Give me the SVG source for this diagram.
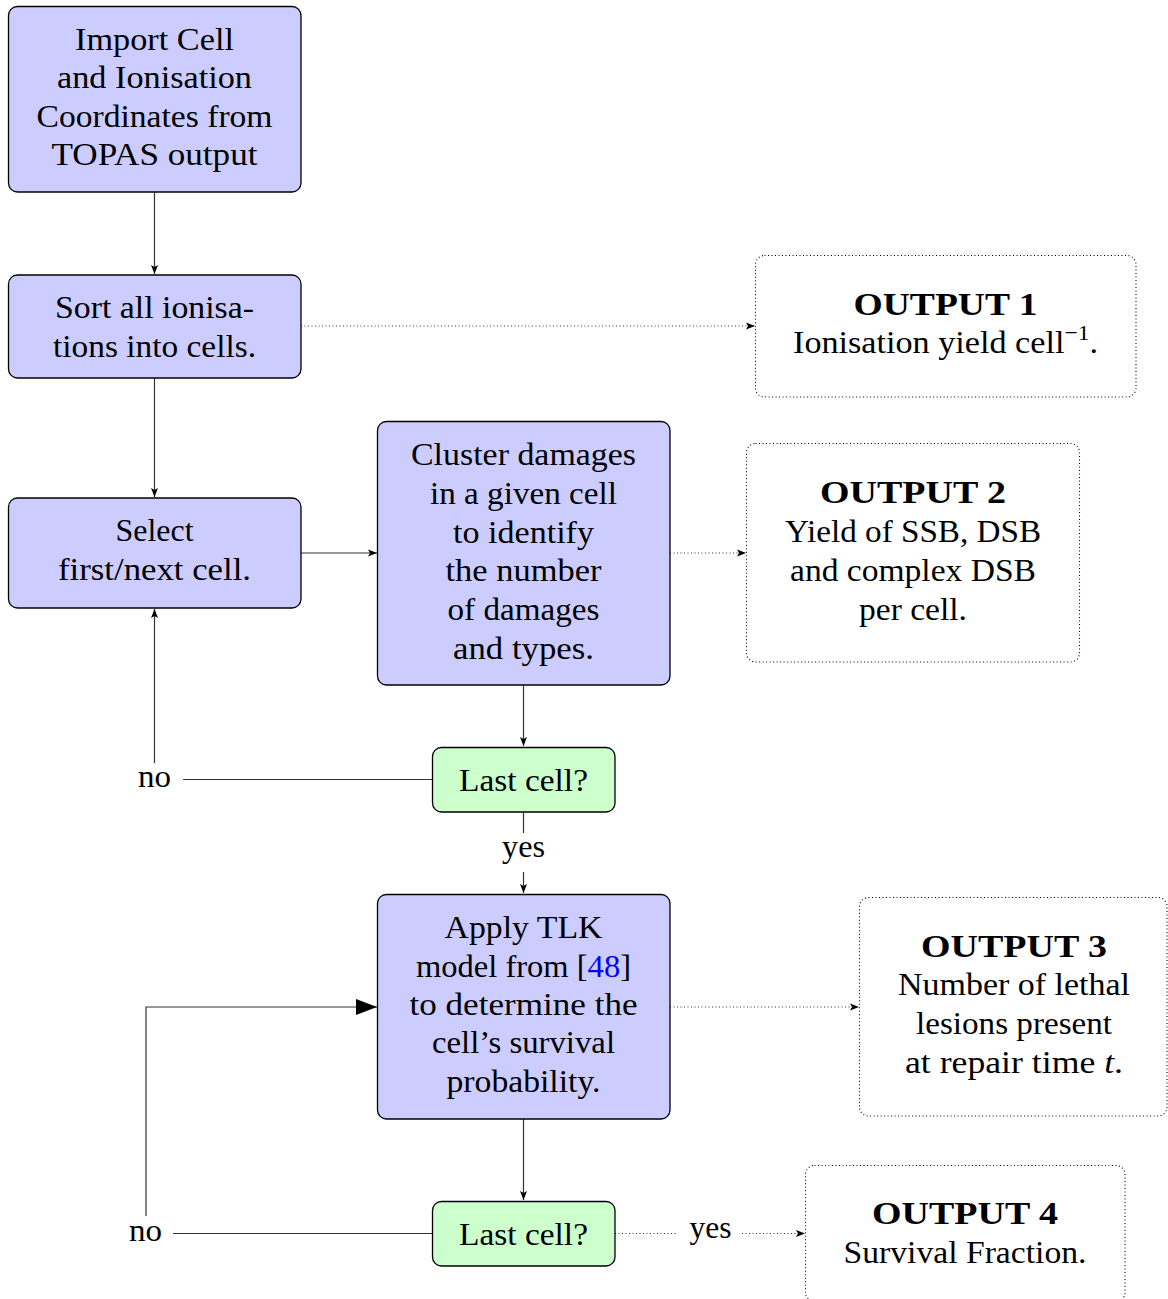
<svg xmlns="http://www.w3.org/2000/svg" width="1168" height="1299" viewBox="0 0 1168 1299">
  <defs>
    <style>
      .t { font-family: "Liberation Serif", "DejaVu Serif", serif; font-size: 32px; fill: #000; text-anchor: middle; }
      .b { font-weight: bold; }
      .proc { fill: #ccccff; stroke: #000; stroke-width: 1.3; }
      .dec { fill: #ccffcc; stroke: #000; stroke-width: 1.3; }
      .out { fill: #fff; stroke: #000; stroke-width: 1.1; stroke-dasharray: 1 2.5; }
      .ln { fill: none; stroke: #333; stroke-width: 1.2; }
      .dot { fill: none; stroke: #333; stroke-width: 1.1; stroke-dasharray: 1 2.5; }
    </style>
    <marker id="ah" markerWidth="10" markerHeight="8" refX="9" refY="4" orient="auto" markerUnits="userSpaceOnUse">
      <path d="M0,0.5 L9,4 L0,7.5 L2,4 z" fill="#000"/>
    </marker>
    <marker id="big" markerWidth="22" markerHeight="18" refX="21" refY="9" orient="auto" markerUnits="userSpaceOnUse">
      <path d="M0,1 L21,9 L0,17 z" fill="#000"/>
    </marker>
  </defs>

  <!-- connectors -->
  <g id="connectors">
    <line class="ln" x1="154.5" y1="192" x2="154.5" y2="274" marker-end="url(#ah)"/>
    <line class="ln" x1="154.5" y1="378" x2="154.5" y2="497" marker-end="url(#ah)"/>
    <line class="dot" x1="301" y1="326" x2="755" y2="326" marker-end="url(#ah)"/>
    <line class="ln" x1="301" y1="553" x2="377" y2="553" marker-end="url(#ah)"/>
    <line class="dot" x1="670" y1="553" x2="746" y2="553" marker-end="url(#ah)"/>
    <line class="ln" x1="523.5" y1="685" x2="523.5" y2="746" marker-end="url(#ah)"/>
    <!-- loop back from first decision -->
    <line class="ln" x1="432" y1="779.5" x2="183" y2="779.5"/>
    <line class="ln" x1="154.5" y1="763" x2="154.5" y2="609" marker-end="url(#ah)"/>
    <!-- yes to survival model -->
    <line class="ln" x1="523.5" y1="812" x2="523.5" y2="833"/>
    <line class="ln" x1="523.5" y1="872" x2="523.5" y2="893" marker-end="url(#ah)"/>
    <line class="dot" x1="670" y1="1007" x2="859" y2="1007" marker-end="url(#ah)"/>
    <line class="ln" x1="523.5" y1="1119" x2="523.5" y2="1200" marker-end="url(#ah)"/>
    <!-- loop back from second decision -->
    <line class="ln" x1="432" y1="1233.5" x2="173" y2="1233.5"/>
    <polyline class="ln" points="146,1216 146,1007 377,1007" marker-end="url(#big)"/>
    <!-- yes to survival fraction -->
    <line class="dot" x1="615" y1="1233.5" x2="678" y2="1233.5"/>
    <line class="dot" x1="742" y1="1233.5" x2="805" y2="1233.5" marker-end="url(#ah)"/>
    <text class="t" x="154.5" y="787" textLength="33" lengthAdjust="spacingAndGlyphs">no</text>
    <text class="t" x="523.5" y="857" textLength="43" lengthAdjust="spacingAndGlyphs">yes</text>
    <text class="t" x="145.5" y="1241" textLength="33" lengthAdjust="spacingAndGlyphs">no</text>
    <text class="t" x="710.5" y="1238" textLength="42" lengthAdjust="spacingAndGlyphs">yes</text>
  </g>

  <g id="import">
    <rect class="proc" x="8.5" y="6.5" width="292.5" height="185.5" rx="9"/>
    <text class="t" x="154.5" y="50" textLength="159" lengthAdjust="spacingAndGlyphs">Import Cell</text>
    <text class="t" x="154.5" y="88" textLength="195" lengthAdjust="spacingAndGlyphs">and Ionisation</text>
    <text class="t" x="154.5" y="127" textLength="236" lengthAdjust="spacingAndGlyphs">Coordinates from</text>
    <text class="t" x="154.5" y="165" textLength="206" lengthAdjust="spacingAndGlyphs">TOPAS output</text>
  </g>

  <g id="sort">
    <rect class="proc" x="8.5" y="275" width="292.5" height="103" rx="9"/>
    <text class="t" x="154.5" y="318" textLength="199" lengthAdjust="spacingAndGlyphs">Sort all ionisa-</text>
    <text class="t" x="154.5" y="357" textLength="203" lengthAdjust="spacingAndGlyphs">tions into cells.</text>
  </g>

  <g id="select">
    <rect class="proc" x="8.5" y="498" width="292.5" height="110" rx="9"/>
    <text class="t" x="154.5" y="541" textLength="78" lengthAdjust="spacingAndGlyphs">Select</text>
    <text class="t" x="154.5" y="580" textLength="193" lengthAdjust="spacingAndGlyphs">first/next cell.</text>
  </g>

  <g id="cluster">
    <rect class="proc" x="377.5" y="421.5" width="292.5" height="263.5" rx="9"/>
    <text class="t" x="523.5" y="465" textLength="225" lengthAdjust="spacingAndGlyphs">Cluster damages</text>
    <text class="t" x="523.5" y="504" textLength="187" lengthAdjust="spacingAndGlyphs">in a given cell</text>
    <text class="t" x="523.5" y="543" textLength="141" lengthAdjust="spacingAndGlyphs">to identify</text>
    <text class="t" x="523.5" y="581" textLength="156" lengthAdjust="spacingAndGlyphs">the number</text>
    <text class="t" x="523.5" y="620" textLength="152" lengthAdjust="spacingAndGlyphs">of damages</text>
    <text class="t" x="523.5" y="659" textLength="141" lengthAdjust="spacingAndGlyphs">and types.</text>
  </g>

  <g id="last-cell-1">
    <rect class="dec" x="432.5" y="747.5" width="182.5" height="64.5" rx="9"/>
    <text class="t" x="523.5" y="791" textLength="129" lengthAdjust="spacingAndGlyphs">Last cell?</text>
  </g>

  <g id="apply-tlk">
    <rect class="proc" x="377.5" y="894.5" width="292.5" height="224.5" rx="9"/>
    <text class="t" x="523.5" y="938" textLength="158" lengthAdjust="spacingAndGlyphs">Apply TLK</text>
    <text class="t" x="523.5" y="977" textLength="215" lengthAdjust="spacingAndGlyphs">model from [<tspan fill="#0000ff">48</tspan>]</text>
    <text class="t" x="523.5" y="1015" textLength="228" lengthAdjust="spacingAndGlyphs">to determine the</text>
    <text class="t" x="523.5" y="1053" textLength="183" lengthAdjust="spacingAndGlyphs">cell’s survival</text>
    <text class="t" x="523.5" y="1092" textLength="154" lengthAdjust="spacingAndGlyphs">probability.</text>
  </g>

  <g id="last-cell-2">
    <rect class="dec" x="432.5" y="1201.5" width="182.5" height="64.5" rx="9"/>
    <text class="t" x="523.5" y="1245" textLength="129" lengthAdjust="spacingAndGlyphs">Last cell?</text>
  </g>

  <g id="output-1">
    <rect class="out" x="755.5" y="255.5" width="380.5" height="141.5" rx="9"/>
    <text class="t b" x="945.5" y="315" textLength="184" lengthAdjust="spacingAndGlyphs">OUTPUT 1</text>
    <text class="t" x="945.5" y="353" textLength="305" lengthAdjust="spacingAndGlyphs">Ionisation yield cell<tspan font-size="22" dy="-13">−1</tspan><tspan dy="13">.</tspan></text>
  </g>

  <g id="output-2">
    <rect class="out" x="746.5" y="443.5" width="333" height="218.5" rx="9"/>
    <text class="t b" x="913" y="503" textLength="186" lengthAdjust="spacingAndGlyphs">OUTPUT 2</text>
    <text class="t" x="913" y="542" textLength="256" lengthAdjust="spacingAndGlyphs">Yield of SSB, DSB</text>
    <text class="t" x="913" y="581" textLength="246" lengthAdjust="spacingAndGlyphs">and complex DSB</text>
    <text class="t" x="913" y="620" textLength="108" lengthAdjust="spacingAndGlyphs">per cell.</text>
  </g>

  <g id="output-3">
    <rect class="out" x="859.5" y="897.5" width="307.5" height="218.5" rx="9"/>
    <text class="t b" x="1014" y="957" textLength="186" lengthAdjust="spacingAndGlyphs">OUTPUT 3</text>
    <text class="t" x="1014" y="995" textLength="232" lengthAdjust="spacingAndGlyphs">Number of lethal</text>
    <text class="t" x="1014" y="1034" textLength="196" lengthAdjust="spacingAndGlyphs">lesions present</text>
    <text class="t" x="1014" y="1073" textLength="218" lengthAdjust="spacingAndGlyphs">at repair time <tspan font-style="italic">t</tspan>.</text>
  </g>

  <g id="output-4">
    <rect class="out" x="805.5" y="1165.5" width="319.5" height="136" rx="9"/>
    <text class="t b" x="965" y="1224" textLength="186" lengthAdjust="spacingAndGlyphs">OUTPUT 4</text>
    <text class="t" x="965" y="1263" textLength="243" lengthAdjust="spacingAndGlyphs">Survival Fraction.</text>
  </g>
</svg>
